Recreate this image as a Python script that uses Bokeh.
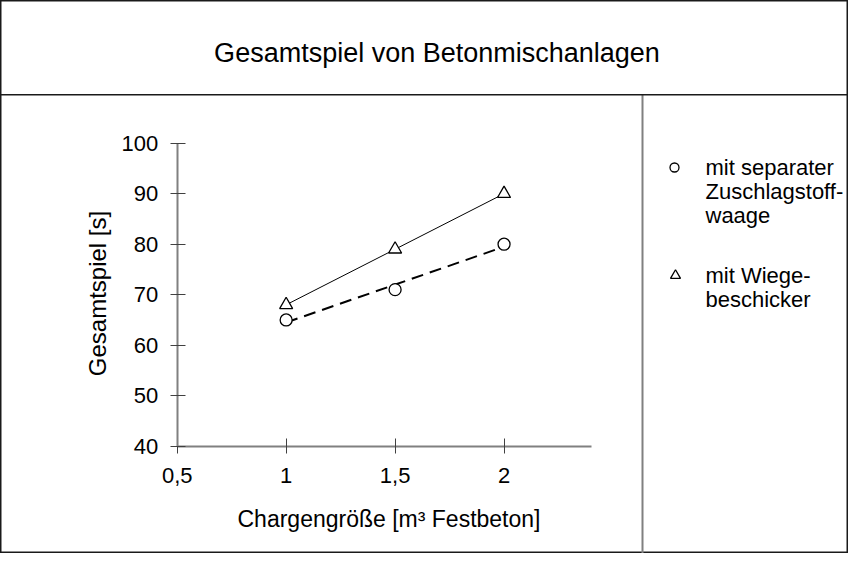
import math
from bokeh.plotting import figure
from bokeh.models import Range1d, LinearAxis, FixedTicker, Span
from bokeh.core.properties import value
from bokeh.embed import file_html
from bokeh.resources import INLINE

# ---- data ----
charge_size = [1.0, 1.5, 2.0]
sep_waage = [65, 71, 80]          # mit separater Zuschlagstoffwaage (circles)
wiege = [68, 79, 90]              # mit Wiegebeschicker (triangles)
trend_x = [1.0, 2.0]
trend_sep = [64.5, 79.5]          # dashed trend line for circles
x_ticks = [0.5, 1.0, 1.5, 2.0]
x_tick_labels = ["0,5", "1", "1,5", "2"]
y_ticks = [40, 50, 60, 70, 80, 90, 100]

title_text = "Gesamtspiel von Betonmischanlagen"
x_label = "Chargengröße [m³ Festbeton]"
y_label = "Gesamtspiel [s]"
legend_sep = ["mit separater", "Zuschlagstoff-", "waage"]
legend_wiege = ["mit Wiege-", "beschicker"]

# ---- layout (canvas pixels, top-left origin) ----
W, H = 848, 553
OFF = 0
px_x0, px_x1 = 176.7 - OFF, 590.7 - OFF     # x = 0.5 .. 2.4
px_y100, px_y40 = 142.7 - OFF, 445.7 - OFF
sx = (px_x1 - px_x0) / (2.4 - 0.5)
sy = (px_y40 - px_y100) / 60.0
x_start = 0.5 - px_x0 / sx
x_end = x_start + W / sx
y_end = 100 + px_y100 / sy
y_start = y_end - H / sy

def X(px):
    return x_start + (px - OFF) / sx

def Y(py):
    return y_end - (py - OFF) / sy

FONT = "Liberation Sans"

p = figure(width=W, height=H, x_range=Range1d(x_start, x_end), y_range=Range1d(y_start, y_end),
           x_axis_type=None, y_axis_type=None, toolbar_location=None, output_backend="svg",
           min_border=0)
p.outline_line_color = "#1a1a1a"
p.outline_line_width = 2
p.background_fill_color = "white"
p.border_fill_color = "white"

# axes
xaxis = LinearAxis(fixed_location=40, bounds=(0.5, 2.4), ticker=FixedTicker(ticks=x_ticks),
                   major_label_overrides={t: l for t, l in zip(x_ticks, x_tick_labels)})
yaxis = LinearAxis(fixed_location=0.5, bounds=(40, 100), ticker=FixedTicker(ticks=y_ticks))
for ax in (xaxis, yaxis):
    ax.axis_line_color = "#808080"
    ax.axis_line_width = 2
    ax.major_tick_line_color = "#404040"
    ax.major_tick_line_width = 1
    ax.major_tick_in = 8
    ax.major_tick_out = 7
    ax.minor_tick_line_color = None
    ax.major_label_text_font = FONT
    ax.major_label_text_font_size = "22px"
    ax.major_label_text_color = "black"
xaxis.major_label_standoff = 15
yaxis.major_label_standoff = 12
p.add_layout(xaxis, "below")
p.add_layout(yaxis, "left")

# frame lines
p.add_layout(Span(location=Y(94.3), dimension="width", line_color="#1a1a1a", line_width=1.5))
p.segment(x0=[X(642)], y0=[Y(94.3)], x1=[X(642)], y1=[Y(600)], line_color="#808080", line_width=2)

# title and axis labels
p.text(x=[X(436.5)], y=[Y(52)], text=[title_text], text_font=value(FONT), text_font_size="27px",
       text_align="center", text_baseline="middle", text_color="black")
p.text(x=[X(388.5)], y=[Y(518)], text=[x_label], text_font=value(FONT), text_font_size="23px",
       text_align="center", text_baseline="middle", text_color="black")
p.text(x=[X(97)], y=[Y(293)], text=[y_label], text_font=value(FONT), text_font_size="24px",
       text_align="center", text_baseline="middle", angle=math.pi / 2, text_color="black")

# data
p.line(trend_x, trend_sep, line_color="black", line_width=2, line_dash="12 7")
p.line(charge_size, wiege, line_color="black", line_width=1)
p.scatter(charge_size, sep_waage, marker="circle", size=12, fill_color="white",
          line_color="black", line_width=1.3)
p.scatter(charge_size, wiege, marker="triangle", size=13, fill_color="white",
          line_color="black", line_width=1.3)

# legend
p.scatter([X(674)], [Y(167)], marker="circle", size=9, fill_color="white", line_color="black", line_width=1.3)
p.scatter([X(675)], [Y(275)], marker="triangle", size=10, fill_color="white", line_color="black", line_width=1.3)
p.text(x=[X(705)] * 3, y=[Y(167 + 24 * i) for i in range(3)], text=legend_sep, text_font=value(FONT),
       text_font_size="22px", text_baseline="middle", text_color="black")
p.text(x=[X(705)] * 2, y=[Y(275 + 24 * i) for i in range(2)], text=legend_wiege, text_font=value(FONT),
       text_font_size="22px", text_baseline="middle", text_color="black")

open("out.html", "w").write(file_html(p, INLINE))
